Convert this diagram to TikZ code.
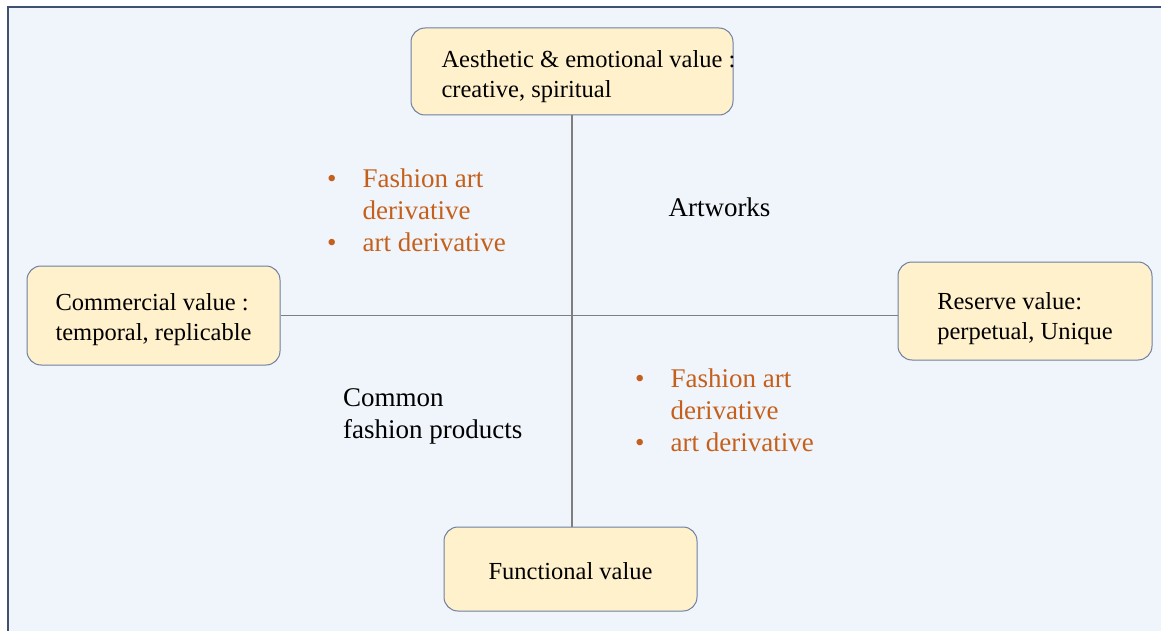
\documentclass[tikz,border=0pt]{standalone}
\usepackage{fontspec}
\setmainfont{Liberation Serif}
\definecolor{fondo}{HTML}{F0F5FB}
\definecolor{marco}{HTML}{3F5070}
\definecolor{boxfill}{HTML}{FFF1CC}
\definecolor{boxborder}{HTML}{6E7FA2}
\definecolor{ejegris}{HTML}{7F7F7F}
\definecolor{naranja}{HTML}{C5601C}
% invisible strut that lowers the first line of a box
\newcommand{\bajar}[1]{\rule{0pt}{#1}}

\begin{document}
\begin{tikzpicture}[x=1pt,y=-1pt,
% Style of the value boxes
valuebox/.style={rectangle, rounded corners=14pt, draw=boxborder, fill=boxfill, line width=1pt, align=left, font=\fontsize{24.5}{30}\selectfont},
% Style of the axes
eje/.style={draw=ejegris, line width=1.2pt},
% Style of the orange lists
lista/.style={anchor=west, inner sep=0pt, text=naranja, font=\fontsize{27}{32}\selectfont},
% Style of the quadrant names
cuadrante/.style={inner sep=0pt, align=left, font=\fontsize{27}{32}\selectfont},
]
\useasboundingbox (0,0) rectangle (1161,631);
% Background and frame
\fill[white] (0,0) rectangle (1161,631);
\fill[fondo] (8,7) rectangle (1161,631);
\draw[marco, line width=1.6pt] (1161,7) -- (8,7) -- (8,631);

% Value boxes
\node (aes) at (572,71.5) [valuebox, minimum width=322pt, minimum height=87pt, inner xsep=30.5pt]
  {\bajar{28pt}\makebox[261pt][l]{Aesthetic \& emotional value :}\\creative, spiritual};
\node (com) at (153.5,315.5) [valuebox, minimum width=253pt, minimum height=99pt]
  {\bajar{26pt}Commercial value :\\temporal, replicable};
\node (res) at (1025,311) [valuebox, minimum width=254pt, minimum height=98pt]
  {\bajar{33pt}Reserve value:\\perpetual, Unique};
\node (fun) at (570.5,569) [valuebox, minimum width=253pt, minimum height=84pt]
  {\bajar{21pt}Functional value};

% Axes
\draw[eje] (aes.south) -- (aes.south |- fun.north);
\draw[eje] (com.east) -- (com.east -| res.west);

% Quadrants
\node (deriv1) at (327,213) [lista]
  {\begin{tabular}{@{}l@{\hspace{26pt}}l@{}}•&Fashion art\\&derivative\\•&art derivative\end{tabular}};
\node (deriv2) at (635,413) [lista]
  {\begin{tabular}{@{}l@{\hspace{26pt}}l@{}}•&Fashion art\\&derivative\\•&art derivative\end{tabular}};
\node (art) at (719.5,207) [cuadrante] {Artworks};
\node (comun) at (343,416) [cuadrante, anchor=west] {Common\\fashion products};
\end{tikzpicture}
\end{document}
